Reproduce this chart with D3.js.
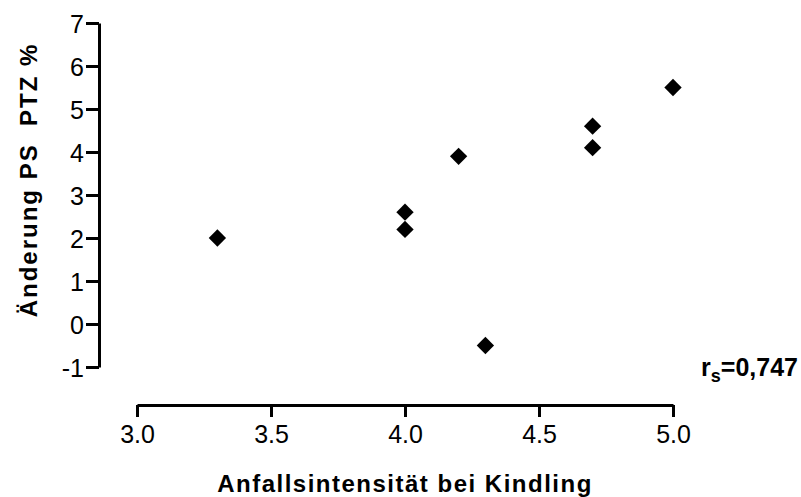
<!DOCTYPE html>
<html>
<head>
<meta charset="utf-8">
<script src="https://cdn.jsdelivr.net/npm/d3@7"></script>
<style>
  html, body { margin: 0; padding: 0; background: #fff; }
  svg { display: block; font-family: "Liberation Sans", Arial, sans-serif; }
</style>
</head>
<body>
<div id="chart"></div>
<script>
// Werte
const intensity = [3.3, 4.0, 4.0, 4.2, 4.3, 4.7, 4.7, 5.0];
const changePS = [2.0, 2.6, 2.2, 3.9, -0.5, 4.6, 4.1, 5.5];
const xTicks = [3.0, 3.5, 4.0, 4.5, 5.0];
const yTicks = [-1, 0, 1, 2, 3, 4, 5, 6, 7];
const xTitle = "Anfallsintensität bei Kindling";
const yTitle = "Änderung PS  PTZ %";
const corrLabel = "0,747";

const W = 801, H = 497;

const svg = d3.select("#chart").append("svg")
  .attr("width", W)
  .attr("height", H);

// getrennte Achsen wie in Prism
const x = d3.scaleLinear().domain([3.0, 5.0]).range([137, 673]);
const y = d3.scaleLinear().domain([-1, 7]).range([367, 23]);
const yAxisX = 99;
const xAxisY = 405;

const xAxis = svg.append("g")
  .attr("transform", `translate(0,${xAxisY})`)
  .call(d3.axisBottom(x).tickValues(xTicks).tickFormat(d3.format(".1f"))
    .tickSize(12).tickSizeOuter(0).tickPadding(7));

const yAxis = svg.append("g")
  .attr("transform", `translate(${yAxisX},0)`)
  .call(d3.axisLeft(y).tickValues(yTicks).tickFormat(d => d)
    .tickSize(13).tickSizeOuter(0).tickPadding(2));

[xAxis, yAxis].forEach(g => {
  g.select(".domain").attr("stroke", "#000").attr("stroke-width", 3);
  g.selectAll(".tick line").attr("stroke", "#000").attr("stroke-width", 3);
  g.selectAll(".tick text")
    .attr("fill", "#000")
    .style("font-family", "'Liberation Sans', Arial, sans-serif")
    .style("font-size", "25px");
});
xAxis.selectAll(".tick text").attr("dy", "0.75em");
yAxis.selectAll(".tick text").attr("dy", "0.36em");

// Datenpunkte (Rauten)
const diamond = d3.symbol().type(d3.symbolSquare).size(150);
svg.append("g")
  .selectAll("path")
  .data(intensity.map((v, i) => ({ x: v, y: changePS[i] })))
  .join("path")
    .attr("d", diamond)
    .attr("fill", "#000")
    .attr("transform", d => `translate(${x(d.x)},${y(d.y)}) rotate(45)`);

// Achsentitel
svg.append("text")
  .attr("x", (x.range()[0] + x.range()[1]) / 2)
  .attr("y", 492)
  .attr("text-anchor", "middle")
  .style("font-size", "24px")
  .style("font-weight", "bold")
  .style("letter-spacing", "1.5px")
  .text(xTitle);

svg.append("text")
  .attr("transform", `translate(37,180) rotate(-90)`)
  .attr("text-anchor", "middle")
  .style("font-size", "24px")
  .style("font-weight", "bold")
  .style("letter-spacing", "2px")
  .style("white-space", "pre")
  .text(yTitle);

// Korrelationskoeffizient
const rs = svg.append("text")
  .attr("x", 798)
  .attr("y", 376)
  .attr("text-anchor", "end")
  .style("font-size", "25px")
  .style("font-weight", "bold");
rs.append("tspan").text("r");
rs.append("tspan").attr("dy", 6).style("font-size", "18px").text("s");
rs.append("tspan").attr("dy", -6).text("=" + corrLabel);
</script>
</body>
</html>
